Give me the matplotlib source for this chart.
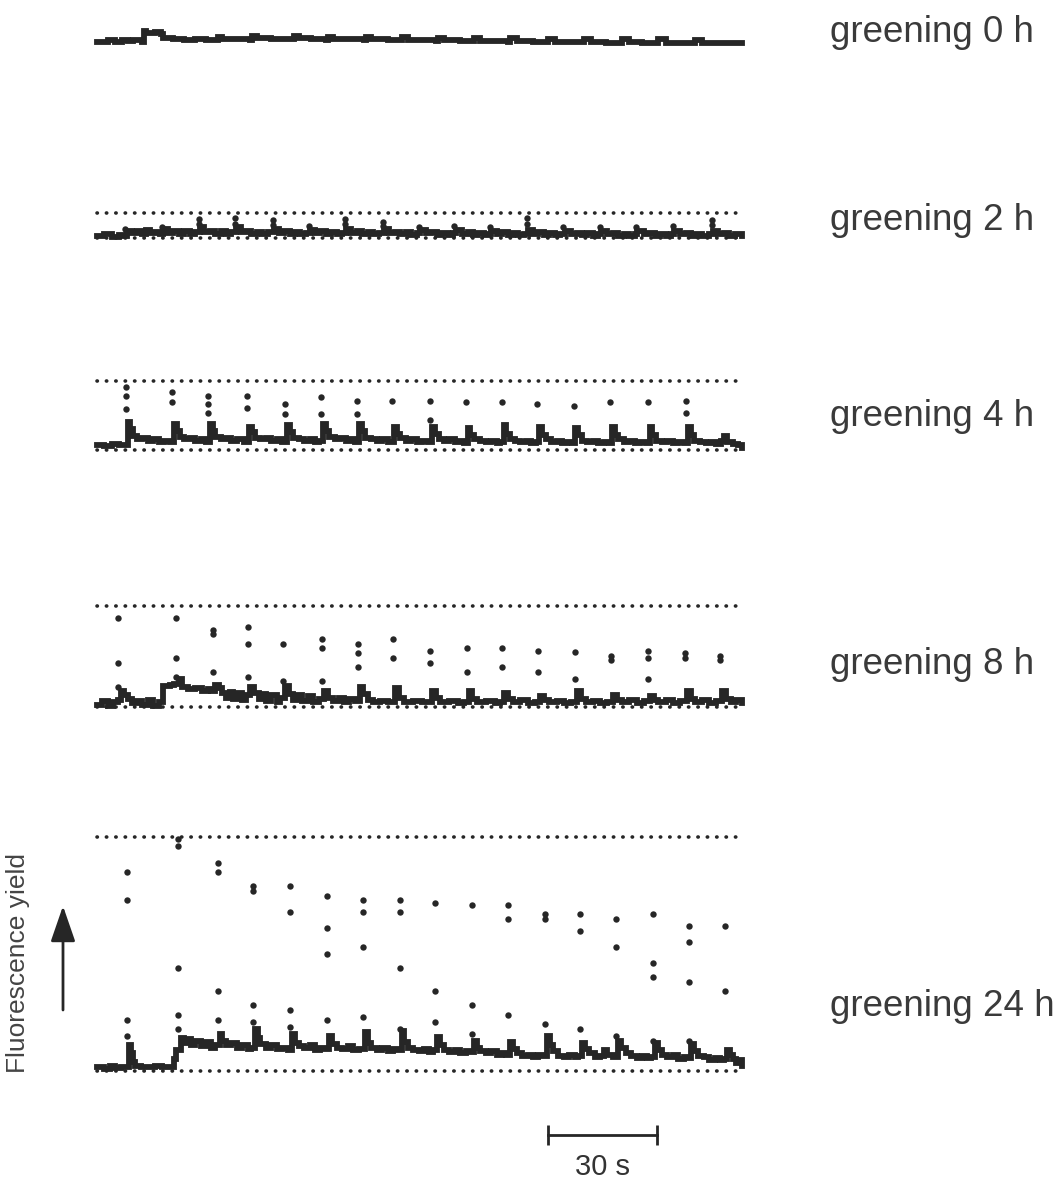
import numpy as np
import matplotlib.pyplot as plt

plt.rcParams['font.family'] = ['Liberation Sans', 'DejaVu Sans']

INK = '#262626'
W_PX, H_PX = 1061, 1183
X0_PX = 97.0          # pixel column of t = 0
PX_PER_S = 3.633
PX_PER_UNIT = 234.0   # vertical pixels per fluorescence unit (same for all panels)
T_END = 177.5
XLIM = (-2.0, 180.0)

labels = ['greening 0 h', 'greening 2 h', 'greening 4 h', 'greening 8 h', 'greening 24 h']

# relative fluorescence yield, F0 = 0; None = no reference lines
fm_levels = [None, 0.105, 0.295, 0.43, 1.0]

# ---- greening 0 h ----
t_0h = [0, 3, 5, 7, 8.5, 10, 12.5, 12.8, 13.5, 16, 17.5, 18.2, 21, 24, 27, 30, 32.5, 33.2, 34.5, 38,
        42, 42.6, 44, 48, 52, 53.8, 54.3, 55.5, 59, 63, 63.5, 65, 69, 73.5, 74, 75.5, 80, 83.5, 84,
        85.5, 90, 93.4, 93.9, 95.5, 100, 103.3, 103.8, 105.5, 110, 113.2, 113.7, 115.5, 120, 123.7,
        124.2, 126, 130, 133.6, 134.1, 136, 140, 144, 144.5, 146.5, 150, 154, 154.5, 156.5, 160, 164,
        164.5, 166.5, 170, 174, 177.5]
y_0h = [0.008, 0.015, 0.01, 0.018, 0.012, 0.015, 0.01, 0.055, 0.045, 0.05, 0.042, 0.025, 0.022, 0.018,
        0.02, 0.016, 0.018, 0.03, 0.022, 0.02, 0.018, 0.035, 0.025, 0.022, 0.02, 0.02, 0.036, 0.025,
        0.02, 0.018, 0.032, 0.022, 0.02, 0.017, 0.03, 0.02, 0.018, 0.015, 0.028, 0.018, 0.016, 0.013,
        0.027, 0.016, 0.014, 0.012, 0.026, 0.014, 0.012, 0.01, 0.025, 0.012, 0.01, 0.008, 0.023, 0.01,
        0.008, 0.007, 0.022, 0.008, 0.006, 0.006, 0.02, 0.007, 0.005, 0.005, 0.02, 0.006, 0.004, 0.004,
        0.018, 0.005, 0.003, 0.004, 0.003]
pulses_0h = []
dots_0h = []

# ---- greening 2 h ----
t_2h = [0, 2, 4, 6, 7.5, 8.2, 9.5, 11, 12.5, 13.5, 14.5, 16, 17.3, 18.2, 19.5, 21, 22.5, 24, 25.5, 27,
        28.3, 29.5, 31, 32.5, 34, 35.5, 37, 38.2, 39.5, 41, 42.5, 44, 45.5, 47, 48.7, 50, 51.5, 53,
        54.5, 56, 57.5, 58.5, 60, 61.5, 63, 64.5, 66, 67.5, 68.5, 70, 71.5, 73, 74.5, 76, 77.5, 78.9,
        80.5, 82, 83.5, 85, 86.5, 88, 88.8, 90.5, 92, 93.5, 95, 96.5, 98, 98.7, 100.5, 102, 103.5, 105,
        106.5, 108, 108.5, 110, 111.5, 113, 114.5, 116, 117.5, 118.5, 120, 121.5, 123, 124.5, 126,
        127.5, 128.7, 130.5, 132, 133.5, 135, 136.5, 138, 138.8, 140.5, 142, 143.5, 145, 146.5, 148,
        148.7, 150.5, 152, 153.5, 155, 156.5, 158, 158.9, 160.5, 162, 163.5, 165, 166.5, 168.5, 169.5,
        171, 172.5, 174, 175.5, 177.5]
y_2h = [0.01, 0.015, 0.006, 0.014, 0.01, 0.03, 0.02, 0.028, 0.015, 0.035, 0.02, 0.026, 0.016, 0.038,
        0.022, 0.03, 0.018, 0.028, 0.017, 0.025, 0.045, 0.024, 0.03, 0.018, 0.028, 0.017, 0.024, 0.045,
        0.025, 0.03, 0.018, 0.027, 0.016, 0.024, 0.04, 0.022, 0.03, 0.018, 0.026, 0.016, 0.022, 0.035,
        0.022, 0.028, 0.017, 0.026, 0.015, 0.022, 0.04, 0.022, 0.028, 0.016, 0.025, 0.015, 0.022, 0.038,
        0.021, 0.027, 0.015, 0.024, 0.014, 0.02, 0.033, 0.02, 0.026, 0.014, 0.023, 0.013, 0.02, 0.033,
        0.019, 0.025, 0.013, 0.022, 0.012, 0.019, 0.032, 0.018, 0.024, 0.012, 0.021, 0.012, 0.018, 0.036,
        0.018, 0.024, 0.012, 0.02, 0.011, 0.018, 0.03, 0.017, 0.023, 0.011, 0.02, 0.01, 0.017, 0.03,
        0.016, 0.022, 0.01, 0.019, 0.01, 0.016, 0.03, 0.016, 0.021, 0.01, 0.018, 0.009, 0.016, 0.03,
        0.015, 0.02, 0.009, 0.017, 0.009, 0.015, 0.032, 0.015, 0.02, 0.009, 0.016, 0.008]
pulses_2h = [7.8, 17.8, 28.0, 37.9, 48.4, 58.3, 68.2, 78.6, 88.5, 98.4, 108.3, 118.3, 128.4, 138.5,
             148.4, 158.6, 169.2]
dots_2h = [[0.04], [0.045], [0.08, 0.06], [0.085, 0.06], [0.075, 0.055], [0.05], [0.08, 0.06],
           [0.07, 0.05], [0.045], [0.05], [0.045], [0.085, 0.06], [0.045], [0.045], [0.045], [0.05],
           [0.075, 0.055]]

# ---- greening 4 h ----
t_4h = [0, 2, 4, 6, 7.6,
        8.5, 9.2, 10, 11, 12.5, 14, 15.5, 17, 18.5, 20,
        21.2, 22, 22.8, 24, 25.5, 27, 28.5, 30,
        31, 31.8, 32.6, 34, 35.5, 37, 38.5, 40.5,
        41.8, 42.6, 43.5, 45, 46.5, 48, 49.5, 51,
        52.2, 53, 54, 55.5, 57, 58.5, 60, 61,
        62.1, 62.9, 63.8, 65.5, 67, 68.5, 70, 71,
        72.1, 72.9, 73.8, 75.5, 77, 78.5, 80,
        81.7, 82.5, 83.5, 85, 86.5, 88, 89.5, 91,
        92.2, 93, 94, 95.5, 97, 98.5, 100, 101,
        102, 102.8, 103.8, 105.5, 107, 108.5, 110, 111,
        111.9, 112.7, 113.6, 115, 116.5, 118, 119.5, 120.8,
        121.7, 122.5, 123.5, 125, 126.5, 128, 129.5, 130.8,
        131.7, 132.5, 133.5, 135, 136.5, 138, 139.5, 140.8,
        141.7, 142.5, 143.5, 145, 146.5, 148, 149.5, 151,
        152.1, 152.9, 153.9, 155.5, 157, 158.5, 160, 161.5,
        162.6, 163.4, 164.4, 166, 167.5, 169, 170.5, 171.8, 172.5, 173.3, 175, 176.5, 177.5]
y_4h = [0.02, 0.015, 0.025, 0.02, 0.02,
        0.12, 0.09, 0.06, 0.045, 0.05, 0.04, 0.045, 0.035, 0.04, 0.035,
        0.11, 0.08, 0.055, 0.045, 0.05, 0.04, 0.045, 0.035,
        0.11, 0.08, 0.055, 0.045, 0.05, 0.04, 0.045, 0.035,
        0.10, 0.075, 0.05, 0.045, 0.05, 0.04, 0.045, 0.035,
        0.105, 0.075, 0.05, 0.045, 0.04, 0.045, 0.035, 0.04,
        0.11, 0.08, 0.055, 0.045, 0.05, 0.04, 0.045, 0.035,
        0.11, 0.08, 0.05, 0.045, 0.04, 0.045, 0.035,
        0.10, 0.07, 0.05, 0.04, 0.045, 0.035, 0.04, 0.035,
        0.10, 0.07, 0.045, 0.04, 0.045, 0.035, 0.04, 0.03,
        0.095, 0.065, 0.045, 0.04, 0.035, 0.04, 0.03, 0.035,
        0.105, 0.07, 0.045, 0.04, 0.035, 0.04, 0.03, 0.035,
        0.10, 0.065, 0.045, 0.035, 0.04, 0.03, 0.035, 0.03,
        0.095, 0.065, 0.04, 0.035, 0.04, 0.03, 0.035, 0.03,
        0.10, 0.065, 0.045, 0.035, 0.04, 0.03, 0.035, 0.03,
        0.10, 0.065, 0.04, 0.035, 0.04, 0.03, 0.035, 0.03,
        0.10, 0.065, 0.04, 0.035, 0.03, 0.035, 0.025, 0.04, 0.06, 0.035, 0.025, 0.02, 0.01]
pulses_4h = [8.0, 20.7, 30.5, 41.3, 51.7, 61.6, 71.6, 81.2, 91.7, 101.5, 111.4, 121.2, 131.2, 141.2,
             151.6, 162.1]
dots_4h = [[0.27, 0.23, 0.175], [0.25, 0.205], [0.23, 0.195, 0.16], [0.23, 0.18], [0.195, 0.155],
           [0.225, 0.155], [0.21, 0.155], [0.21], [0.21, 0.13], [0.205], [0.205], [0.195], [0.19],
           [0.205], [0.205], [0.21, 0.16]]

# ---- greening 8 h ----
t_8h = [0, 1.5, 3, 4.5, 5.8, 6.5, 7.5, 8.5, 9.5, 11, 12.5, 14, 15.5, 17, 18.2, 20, 21.2,
        22.5, 23.5, 25, 27, 29, 30.5, 31.5,
        32.5, 33.5, 34.5, 35.5, 36.5, 37.5, 38.5, 40, 41,
        42.2, 43.2, 44.5, 45.5, 46.5, 48, 49.5, 50.5,
        51.8, 52.8, 54, 55, 56.5, 58, 59.5, 61,
        62.5, 63.5, 65, 66.5, 68, 69.5, 71,
        72.4, 73.3, 74.5, 76, 78, 80,
        82.1, 83, 84.5, 87, 89.5, 91,
        92.3, 93.2, 94.5, 97, 99.5, 101,
        102.4, 103.3, 104.5, 107, 109.5, 111,
        112.1, 113, 114.5, 116.5, 118.5, 120.5,
        122, 123, 124.5, 126.5, 128.5, 130.5,
        132.2, 133.2, 134.5, 136.5, 138.5, 140.5,
        142.1, 143, 144.5, 146.5, 148.5, 150.5,
        152.3, 153.2, 154.5, 156.5, 158.5, 160.5,
        162.5, 163.4, 164.5, 166.5, 168.5, 170.5,
        172.1, 173, 174.5, 176, 177.5]
y_8h = [0.01, 0.025, 0.005, 0.02, 0.03, 0.07, 0.05, 0.035, 0.015, 0.025, 0.01, 0.03, 0.005, 0.02, 0.09,
        0.095, 0.10,
        0.12, 0.085, 0.075, 0.08, 0.07, 0.075, 0.07,
        0.095, 0.08, 0.06, 0.04, 0.065, 0.035, 0.06, 0.03, 0.05,
        0.085, 0.06, 0.035, 0.055, 0.025, 0.05, 0.02, 0.04,
        0.09, 0.055, 0.03, 0.05, 0.025, 0.045, 0.02, 0.035,
        0.07, 0.04, 0.025, 0.04, 0.02, 0.035, 0.025,
        0.085, 0.055, 0.03, 0.02, 0.025, 0.02,
        0.08, 0.04, 0.02, 0.025, 0.02, 0.02,
        0.07, 0.04, 0.02, 0.025, 0.015, 0.02,
        0.07, 0.035, 0.02, 0.025, 0.015, 0.02,
        0.06, 0.035, 0.02, 0.03, 0.015, 0.02,
        0.045, 0.03, 0.02, 0.025, 0.015, 0.02,
        0.07, 0.035, 0.02, 0.025, 0.015, 0.02,
        0.05, 0.03, 0.02, 0.03, 0.015, 0.025,
        0.045, 0.03, 0.02, 0.03, 0.015, 0.025,
        0.07, 0.035, 0.02, 0.03, 0.015, 0.025,
        0.07, 0.035, 0.02, 0.03, 0.015]
pulses_8h = [5.8, 21.7, 31.9, 41.6, 51.2, 61.9, 71.8, 81.5, 91.7, 101.8, 111.5, 121.4, 131.6, 141.5,
             151.7, 161.9, 171.5]
dots_8h = [[0.38, 0.19, 0.085], [0.38, 0.21, 0.13], [0.33, 0.31, 0.15], [0.34, 0.27, 0.13],
           [0.27, 0.11], [0.29, 0.25, 0.11], [0.27, 0.23, 0.17], [0.29, 0.21], [0.24, 0.19],
           [0.25, 0.15], [0.25, 0.17], [0.24, 0.15], [0.235, 0.12], [0.22, 0.20], [0.24, 0.21, 0.12],
           [0.23, 0.21], [0.22, 0.20]]

# ---- greening 24 h ----
t_24h = [0, 2, 3.5, 5, 6.5, 8.0,
         8.8, 9.3, 9.9, 10.5, 12, 14, 16, 18, 20, 21.2, 21.8,
         23.0, 24.0, 25.0, 26.0, 27.0, 28.5, 30.0, 31.5, 32.6,
         33.8, 34.5, 35.5, 37, 38.5, 40, 41.5, 42.5,
         43.5, 44.2, 45, 46.5, 48, 49.5, 51, 52.5,
         53.6, 54.4, 55.5, 57, 58.5, 60, 61.5, 62.7,
         63.8, 64.6, 66, 67.5, 69, 70.5, 72,
         73.7, 74.5, 75.5, 77, 78.5, 80, 81.5, 82.8,
         83.9, 84.6, 85.5, 87, 88.5, 90, 91.5, 92.5,
         93.5, 94.3, 95.5, 97, 98.5, 100, 101.5, 102.6,
         103.7, 104.5, 105.5, 107, 108.5, 110, 111.5, 112.5,
         113.6, 114.4, 115.5, 117, 118.5, 120, 121.5, 122.7,
         123.8, 124.6, 125.5, 127, 128.5, 130, 131.5, 132.5,
         133.5, 134.3, 135.5, 137, 138.5, 139.5, 140.5, 142,
         143.4, 144.2, 145.5, 147, 148.5, 150, 151.5, 152.5,
         153.5, 154.3, 155.5, 157, 158.5, 160, 161.5, 162.5,
         163.4, 164.2, 165.5, 167, 168.5, 170, 171.5, 172.5,
         173.4, 174.2, 175, 176, 177, 177.5]
y_24h = [0.015, 0.01, 0.02, 0.012, 0.018, 0.015,
         0.11, 0.075, 0.04, 0.02, 0.018, 0.015, 0.02, 0.015, 0.018, 0.05, 0.09,
         0.14, 0.12, 0.135, 0.11, 0.13, 0.105, 0.125, 0.10, 0.11,
         0.16, 0.13, 0.11, 0.12, 0.10, 0.11, 0.095, 0.10,
         0.18, 0.14, 0.115, 0.10, 0.11, 0.095, 0.10, 0.09,
         0.16, 0.12, 0.105, 0.10, 0.11, 0.09, 0.10, 0.095,
         0.15, 0.115, 0.10, 0.095, 0.105, 0.09, 0.095,
         0.165, 0.12, 0.10, 0.09, 0.10, 0.085, 0.095, 0.09,
         0.17, 0.125, 0.10, 0.09, 0.085, 0.095, 0.08, 0.09,
         0.145, 0.11, 0.09, 0.08, 0.09, 0.075, 0.085, 0.08,
         0.13, 0.10, 0.085, 0.075, 0.085, 0.07, 0.075, 0.07,
         0.125, 0.095, 0.075, 0.065, 0.07, 0.06, 0.07, 0.065,
         0.15, 0.11, 0.085, 0.065, 0.06, 0.07, 0.06, 0.065,
         0.12, 0.095, 0.075, 0.06, 0.065, 0.09, 0.07, 0.06,
         0.13, 0.10, 0.075, 0.065, 0.055, 0.065, 0.055, 0.06,
         0.12, 0.09, 0.07, 0.06, 0.07, 0.05, 0.06, 0.055,
         0.115, 0.085, 0.065, 0.06, 0.045, 0.055, 0.045, 0.05,
         0.09, 0.07, 0.05, 0.035, 0.045, 0.02]
pulses_24h = [8.3, 22.3, 33.3, 42.9, 53.1, 63.3, 73.2, 83.4, 93.0, 103.2, 113.1, 123.3, 133.0, 142.9,
              153.0, 162.9, 172.9]
dots_24h = [[0.85, 0.73, 0.22, 0.15], [0.99, 0.96, 0.44, 0.24, 0.18], [0.89, 0.85, 0.34, 0.22],
            [0.79, 0.77, 0.28, 0.21], [0.79, 0.68, 0.26, 0.19], [0.75, 0.61, 0.50, 0.22],
            [0.73, 0.68, 0.53, 0.23], [0.73, 0.68, 0.44, 0.18], [0.72, 0.34, 0.21],
            [0.71, 0.28, 0.16], [0.71, 0.65, 0.24], [0.67, 0.65, 0.20], [0.67, 0.60, 0.18],
            [0.65, 0.53, 0.15], [0.67, 0.46, 0.40, 0.13], [0.62, 0.55, 0.38, 0.13], [0.62, 0.34]]

traces = [(t_0h, y_0h), (t_2h, y_2h), (t_4h, y_4h), (t_8h, y_8h), (t_24h, y_24h)]
pulses = [pulses_0h, pulses_2h, pulses_4h, pulses_8h, pulses_24h]
dots = [dots_0h, dots_2h, dots_4h, dots_8h, dots_24h]

SCALE_BAR_S = 30
SCALE_BAR_START = 124.1

# layout (pixels from the top of the figure)
f0_px = [44, 238, 450, 707, 1071]
label_y_px = [33, 221, 416, 664, 1006]


def add_panel(fig, base_px, ylo, yhi):
    left = (X0_PX + XLIM[0] * PX_PER_S) / W_PX
    width = (XLIM[1] - XLIM[0]) * PX_PER_S / W_PX
    bottom = 1 - (base_px - ylo * PX_PER_UNIT) / H_PX
    height = (yhi - ylo) * PX_PER_UNIT / H_PX
    ax = fig.add_axes([left, bottom, width, height])
    ax.set_xlim(*XLIM)
    ax.set_ylim(ylo, yhi)
    ax.axis('off')
    return ax


def draw_panel(ax, t, y, fm, pulse_t, pulse_dots):
    if fm is not None:
        for level in (0.0, fm):
            ax.plot([0, T_END], [level, level], color=INK, lw=2.6,
                    linestyle=(0, (0.1, 2.5)), dash_capstyle='round')
    ax.plot(t, y, drawstyle='steps-post', color=INK, lw=4.2, solid_joinstyle='miter')
    if pulse_t:
        xs = np.concatenate([[p] * len(d) for p, d in zip(pulse_t, pulse_dots)])
        ys = np.concatenate(pulse_dots)
        ax.plot(xs, ys, 'o', ms=4.6, color=INK, mec='none')


fig = plt.figure(figsize=(W_PX / 100, H_PX / 100), dpi=100)

for i in range(len(labels)):
    top = (fm_levels[i] if fm_levels[i] is not None else 0.06) + 0.05
    ax = add_panel(fig, f0_px[i], -0.06, top)
    draw_panel(ax, traces[i][0], traces[i][1], fm_levels[i], pulses[i], dots[i])
    fig.text(830 / W_PX, 1 - label_y_px[i] / H_PX, labels[i], fontsize=26.5,
             color='#3a3a3a', va='center', ha='left')

# scale bar
ax_bar = add_panel(fig, 1135, -0.05, 0.05)
ax_bar.plot([SCALE_BAR_START, SCALE_BAR_START + SCALE_BAR_S], [0, 0], color=INK, lw=2,
            marker='|', ms=15, mew=2)
fig.text((X0_PX + (SCALE_BAR_START + SCALE_BAR_S / 2) * PX_PER_S) / W_PX, 1 - 1167 / H_PX,
         f'{SCALE_BAR_S} s', fontsize=21, color='#333333', ha='center', va='center')

# y axis hint
fig.text(18 / W_PX, 1 - 963 / H_PX, 'Fluorescence yield', fontsize=19, rotation=90,
         color='#444444', ha='center', va='center')
ax_bar.annotate('', xy=(63, H_PX - 906), xytext=(63, H_PX - 1010), xycoords='figure pixels',
                textcoords='figure pixels', annotation_clip=False,
                arrowprops=dict(arrowstyle='-|>,head_length=1.1,head_width=0.38', lw=2,
                                color=INK, mutation_scale=20, shrinkA=0, shrinkB=0))

fig.savefig('out.png', dpi=100)
